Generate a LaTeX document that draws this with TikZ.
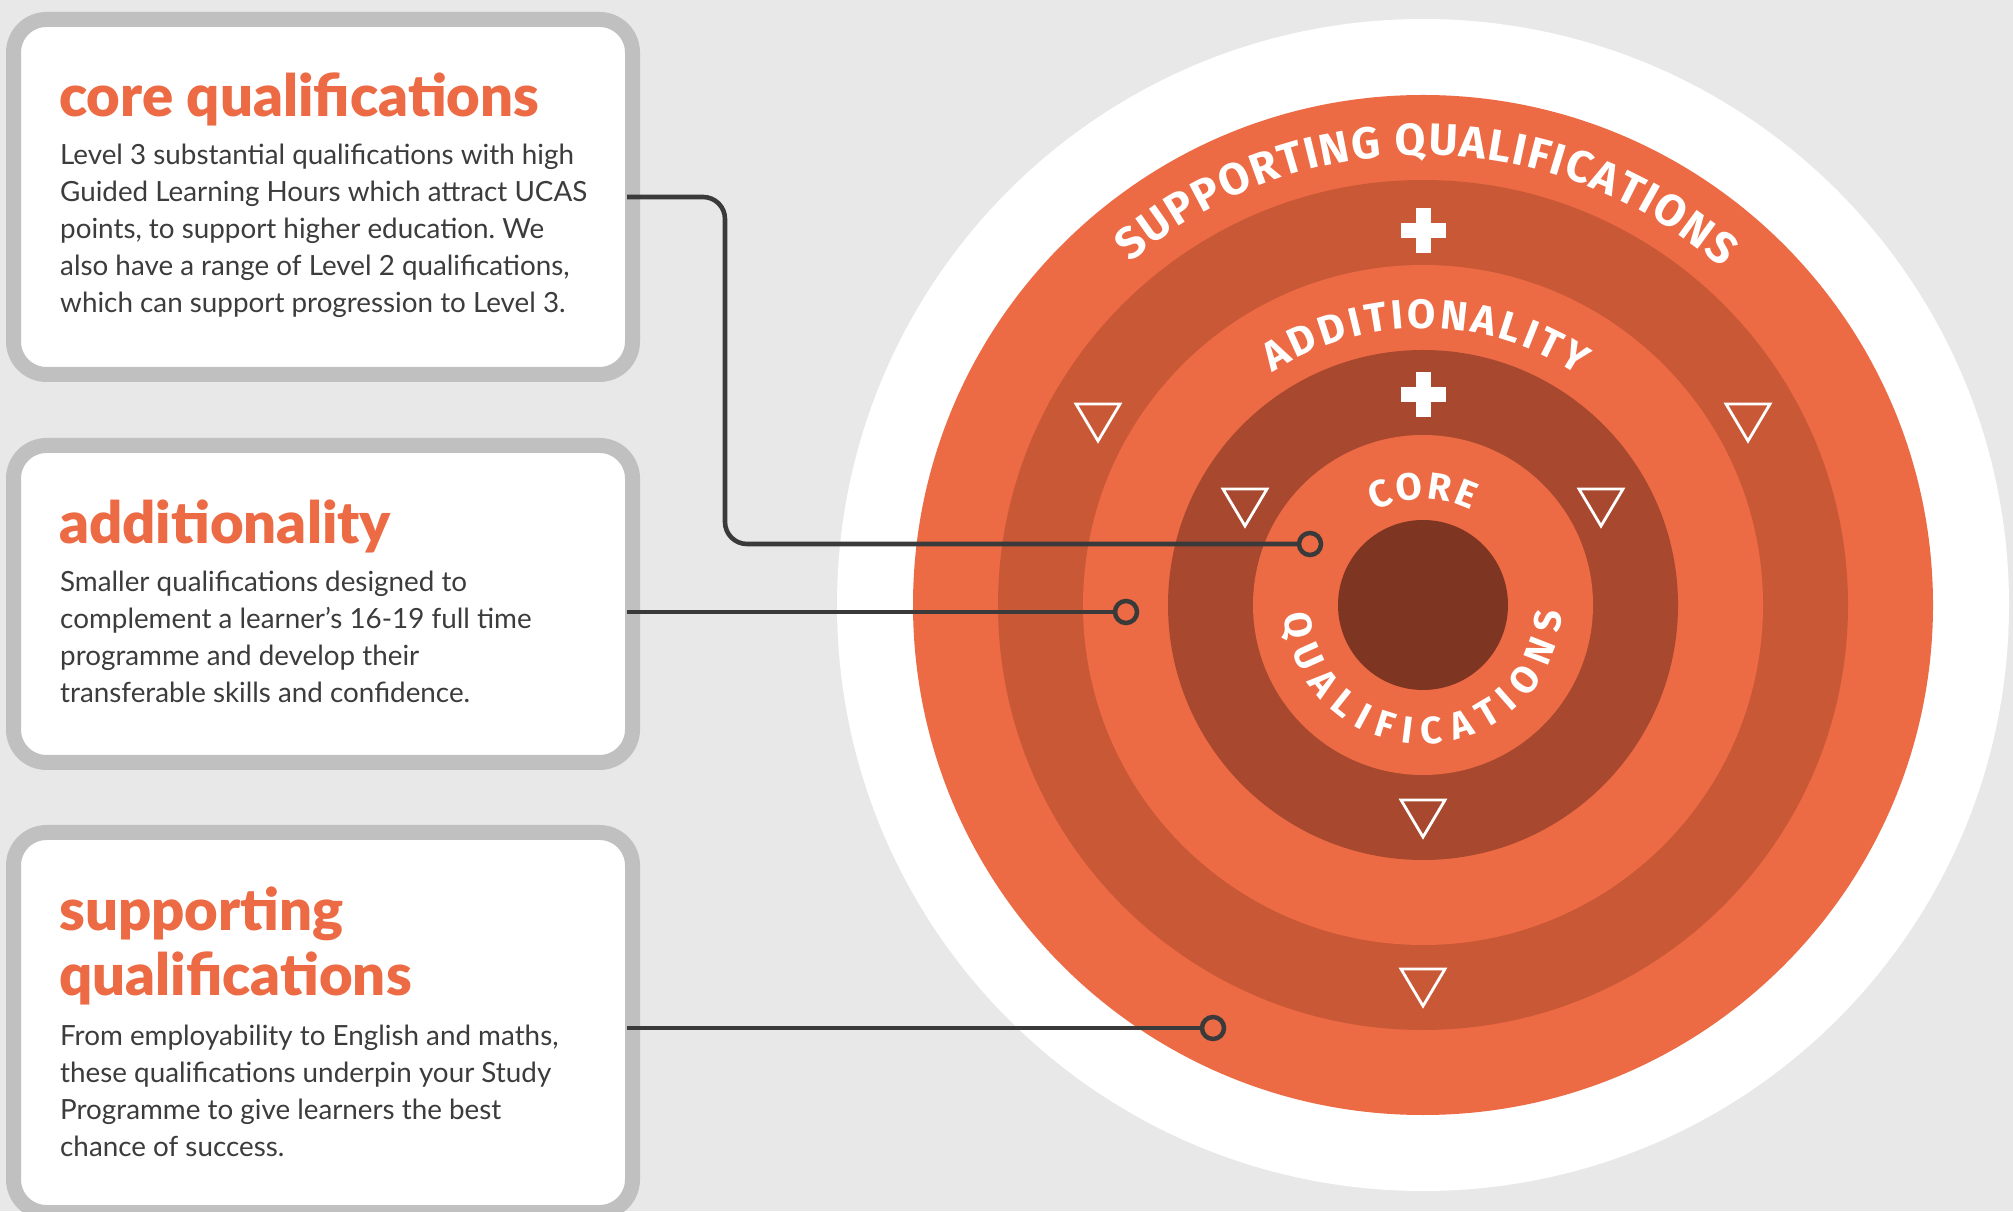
\documentclass[tikz,border=0pt]{standalone}
\usepackage{fontspec}
\setmainfont{Lato}
\newfontfamily\ringfont{Fira Sans}
\newfontfamily\titlefont{Lato Black}
\usetikzlibrary{decorations.text}
\frenchspacing
\definecolor{bgc}{HTML}{E8E8E8}
\definecolor{framec}{HTML}{C0C0C0}
\definecolor{orangeA}{HTML}{EC6A44}
\definecolor{orangeB}{HTML}{C95837}
\definecolor{orangeC}{HTML}{A8492F}
\definecolor{coreC}{HTML}{7E3522}
\definecolor{inkc}{HTML}{3C3C3C}
\definecolor{connc}{HTML}{3A3A3A}
\newcommand\rtA{\color{white}\ringfont\bfseries\fontsize{44.5}{44.5}\selectfont}
\newcommand\rtB{\color{white}\ringfont\bfseries\fontsize{41}{41}\selectfont}
\newcommand\rtC{\color{white}\ringfont\bfseries\fontsize{38}{38}\selectfont}
\tikzset{
  boxframe/.style={draw=framec, line width=15pt, fill=white, rounded corners=33pt,
    minimum width=619pt, inner sep=0pt},
  disc/.style={circle, inner sep=0pt, outer sep=0pt},
  dot/.style={circle, draw=connc, line width=4.5pt, minimum size=22pt, inner sep=0pt},
  conn/.style={draw=connc, line width=4.6pt},
  tri/.style={draw=white, line width=2.8pt, line join=miter},
  plusbar/.style={fill=white},
  titletext/.style={anchor=base west, inner sep=0pt, text=orangeA,
    font=\titlefont\fontsize{58}{65}\selectfont},
  bodytext/.style={anchor=base west, inner sep=0pt, text=inkc,
    font=\fontsize{27.8}{37}\selectfont},
  ringtext/.style={decorate, decoration={text along path, text align={fit to path}, text={#1}}}
}
\begin{document}
\begin{tikzpicture}[x=1pt,y=1pt]
\useasboundingbox (0,0) rectangle (2013,1211);
\fill[bgc] (0,0) rectangle (2013,1211);

% boxes
\node[boxframe, minimum height=355pt] (box1) at (323,1014) {};
\node[boxframe, minimum height=317pt] (box2) at (323,607) {};
\node[boxframe, minimum height=380pt] (box3) at (323,188.5) {};

% target
\coordinate (C) at (1423,606);
\node[disc, fill=white,   minimum size=1172pt] (r0) at (C) {};
\node[disc, fill=orangeA, minimum size=1020pt] (r1) at (C) {};
\node[disc, fill=orangeB, minimum size=850pt]  (r2) at (C) {};
\node[disc, fill=orangeA, minimum size=680pt]  (r3) at (C) {};
\node[disc, fill=orangeC, minimum size=510pt]  (r4) at (C) {};
\node[disc, fill=orangeA, minimum size=340pt]  (r5) at (C) {};
\node[disc, fill=coreC,   minimum size=170pt]  (r6) at (C) {};

% ring labels
\path[ringtext={|\rtA|SUPPORTING QUALIFICATIONS}]
  ([shift={(130.5:450pt)}]C) arc[start angle=130.5, end angle=48.5, radius=450pt];
\path[ringtext={|\rtB|ADDITIONALITY}]
  ([shift={(123:277pt)}]C) arc[start angle=123, end angle=56, radius=277pt];
\path[ringtext={|\rtC|CORE}]
  ([shift={(117:106pt)}]C) arc[start angle=117, end angle=63, radius=106pt];
\path[ringtext={|\rtC|QUALIFICATIONS}]
  ([shift={(184:139pt)}]C) arc[start angle=184, end angle=357, radius=139pt];

% plus signs
\fill[plusbar] (1400.5,972.5) rectangle (1445.5,987.5);
\fill[plusbar] (1415.5,957.5) rectangle (1430.5,1002.5);
\fill[plusbar] (1400.5,808.5) rectangle (1445.5,823.5);
\fill[plusbar] (1415.5,793.5) rectangle (1430.5,838.5);

% triangles
\draw[tri] (1076,807) -- (1120,807) -- (1098,770) -- cycle;
\draw[tri] (1726,807) -- (1770,807) -- (1748,770) -- cycle;
\draw[tri] (1223,722) -- (1267,722) -- (1245,685) -- cycle;
\draw[tri] (1579,722) -- (1623,722) -- (1601,685) -- cycle;
\draw[tri] (1401,411) -- (1445,411) -- (1423,374) -- cycle;
\draw[tri] (1401,242) -- (1445,242) -- (1423,205) -- cycle;

% connectors
\coordinate (s1) at (627,1014);
\coordinate (s2) at (627,599);
\coordinate (s3) at (627,183);
\node[dot] (d1) at (1310,667) {};
\node[dot] (d2) at (1126,599) {};
\node[dot] (d3) at (1213,183) {};
\coordinate (k1) at (725,667);
\draw[conn, rounded corners=22pt] (s1) -| (k1) -- (d1.west);
\draw[conn] (s2) -- (d2.west);
\draw[conn] (s3) -- (d3.west);

% box texts
\node[titletext] (h1) at (59,1094) {core qualifications};
\node[bodytext] (p1) at (60,1046) {\parbox[t]{600pt}{\raggedright
Level 3 substantial qualifications with high\\
Guided Learning Hours which attract UCAS\\
points, to support higher education. We\\
also have a range of Level 2 qualifications,\\
which can support progression to Level 3.}};

\node[titletext] (h2) at (59,667) {additionality};
\node[bodytext] (p2) at (60,619) {\parbox[t]{600pt}{\raggedright
Smaller qualifications designed to\\
complement a learner’s 16-19 full time\\
programme and develop their\\
transferable skills and confidence.}};

\node[titletext] (h3) at (59,281) {\parbox[t]{600pt}{\raggedright supporting\\qualifications}};
\node[bodytext] (p3) at (60,166) {\parbox[t]{600pt}{\raggedright
From employability to English and maths,\\
these qualifications underpin your Study\\
Programme to give learners the best\\
chance of success.}};
\end{tikzpicture}
\end{document}
